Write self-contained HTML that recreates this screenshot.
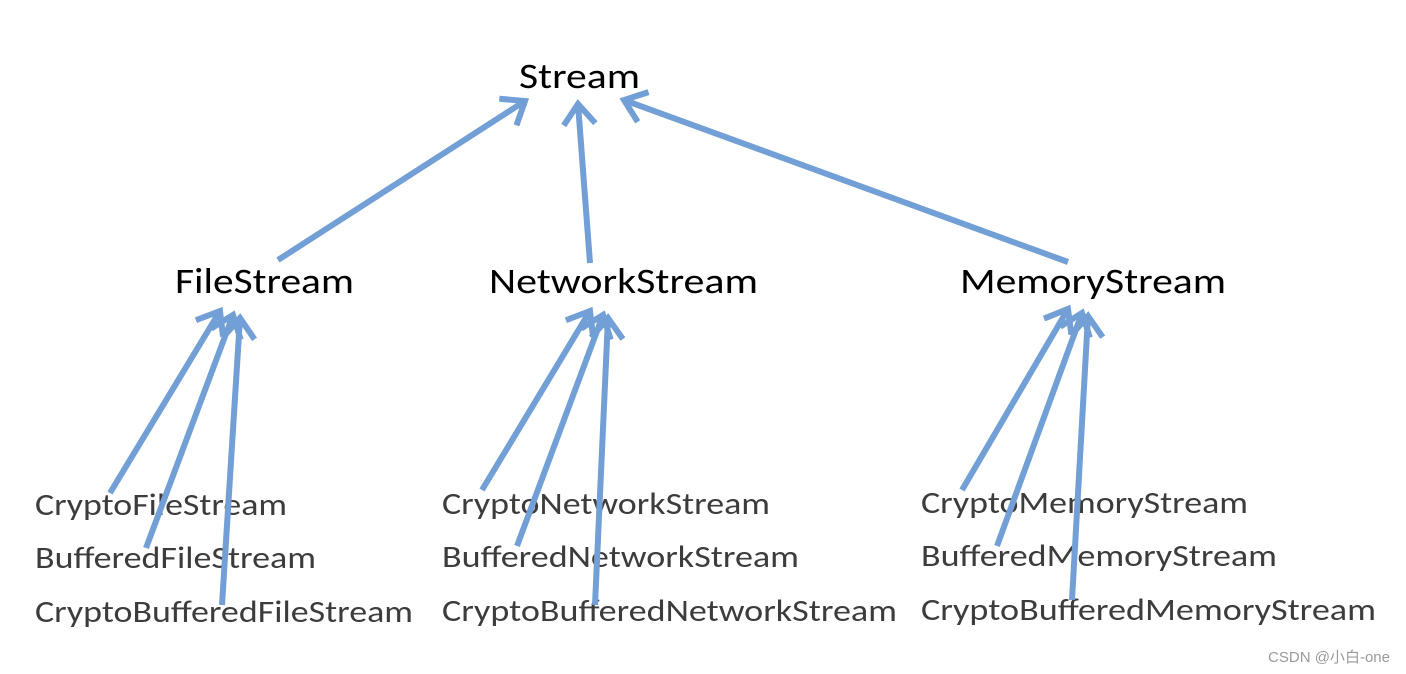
<!DOCTYPE html>
<html><head><meta charset="utf-8"><style>
html,body{margin:0;padding:0;background:#fff;}
svg{display:block}
.t{font-family:"Calibri","Liberation Sans",sans-serif;}
</style></head><body>
<svg width="1406" height="674" viewBox="0 0 1406 674" xmlns="http://www.w3.org/2000/svg">
<defs>
<marker id="a" markerUnits="userSpaceOnUse" markerWidth="44" markerHeight="44" refX="22" refY="22" orient="auto">
<path d="M4,8 L22,22 L4,36" fill="none" stroke="#729fd6" stroke-width="6" stroke-linecap="square"/>
</marker>
</defs>
<g class="t">
<text x="519" y="88" font-size="36" fill="#000" textLength="121" lengthAdjust="spacingAndGlyphs">Stream</text>
<text x="175" y="293" font-size="36" fill="#000" textLength="179" lengthAdjust="spacingAndGlyphs">FileStream</text>
<text x="489" y="293" font-size="36" fill="#000" textLength="269" lengthAdjust="spacingAndGlyphs">NetworkStream</text>
<text x="960" y="293" font-size="36" fill="#000" textLength="266" lengthAdjust="spacingAndGlyphs">MemoryStream</text>
<g font-size="31" fill="#3c3c3c">
<text x="35" y="515" textLength="252" lengthAdjust="spacingAndGlyphs">CryptoFileStream</text>
<text x="35" y="568" textLength="281" lengthAdjust="spacingAndGlyphs">BufferedFileStream</text>
<text x="35" y="622" textLength="378" lengthAdjust="spacingAndGlyphs">CryptoBufferedFileStream</text>
<text x="442" y="514" textLength="328" lengthAdjust="spacingAndGlyphs">CryptoNetworkStream</text>
<text x="442" y="567" textLength="357" lengthAdjust="spacingAndGlyphs">BufferedNetworkStream</text>
<text x="442" y="621" textLength="455" lengthAdjust="spacingAndGlyphs">CryptoBufferedNetworkStream</text>
<text x="921" y="513" textLength="327" lengthAdjust="spacingAndGlyphs">CryptoMemoryStream</text>
<text x="921" y="566" textLength="356" lengthAdjust="spacingAndGlyphs">BufferedMemoryStream</text>
<text x="921" y="620" textLength="455" lengthAdjust="spacingAndGlyphs">CryptoBufferedMemoryStream</text>
</g>
<text x="1268" y="662" font-size="15" fill="#9a9a9a" font-family="Liberation Sans, Noto Sans CJK SC, sans-serif" textLength="122" lengthAdjust="spacingAndGlyphs">CSDN @小白-one</text>
</g>
<g stroke="#729fd6" stroke-width="6" fill="none" marker-end="url(#a)">
<line x1="278" y1="260" x2="525" y2="101"/>
<line x1="590" y1="263" x2="578" y2="104"/>
<line x1="1068" y1="262" x2="624" y2="100"/>
<line x1="110" y1="493" x2="220" y2="311"/>
<line x1="146" y1="548" x2="233" y2="315"/>
<line x1="222" y1="605" x2="240" y2="318"/>
<line x1="482" y1="490" x2="590" y2="311"/>
<line x1="517" y1="546" x2="603" y2="315"/>
<line x1="595" y1="605" x2="608" y2="318"/>
<line x1="962" y1="490" x2="1068" y2="309"/>
<line x1="997" y1="546" x2="1082" y2="313"/>
<line x1="1072" y1="600" x2="1088" y2="316"/>
</g>
</svg>
</body></html>
